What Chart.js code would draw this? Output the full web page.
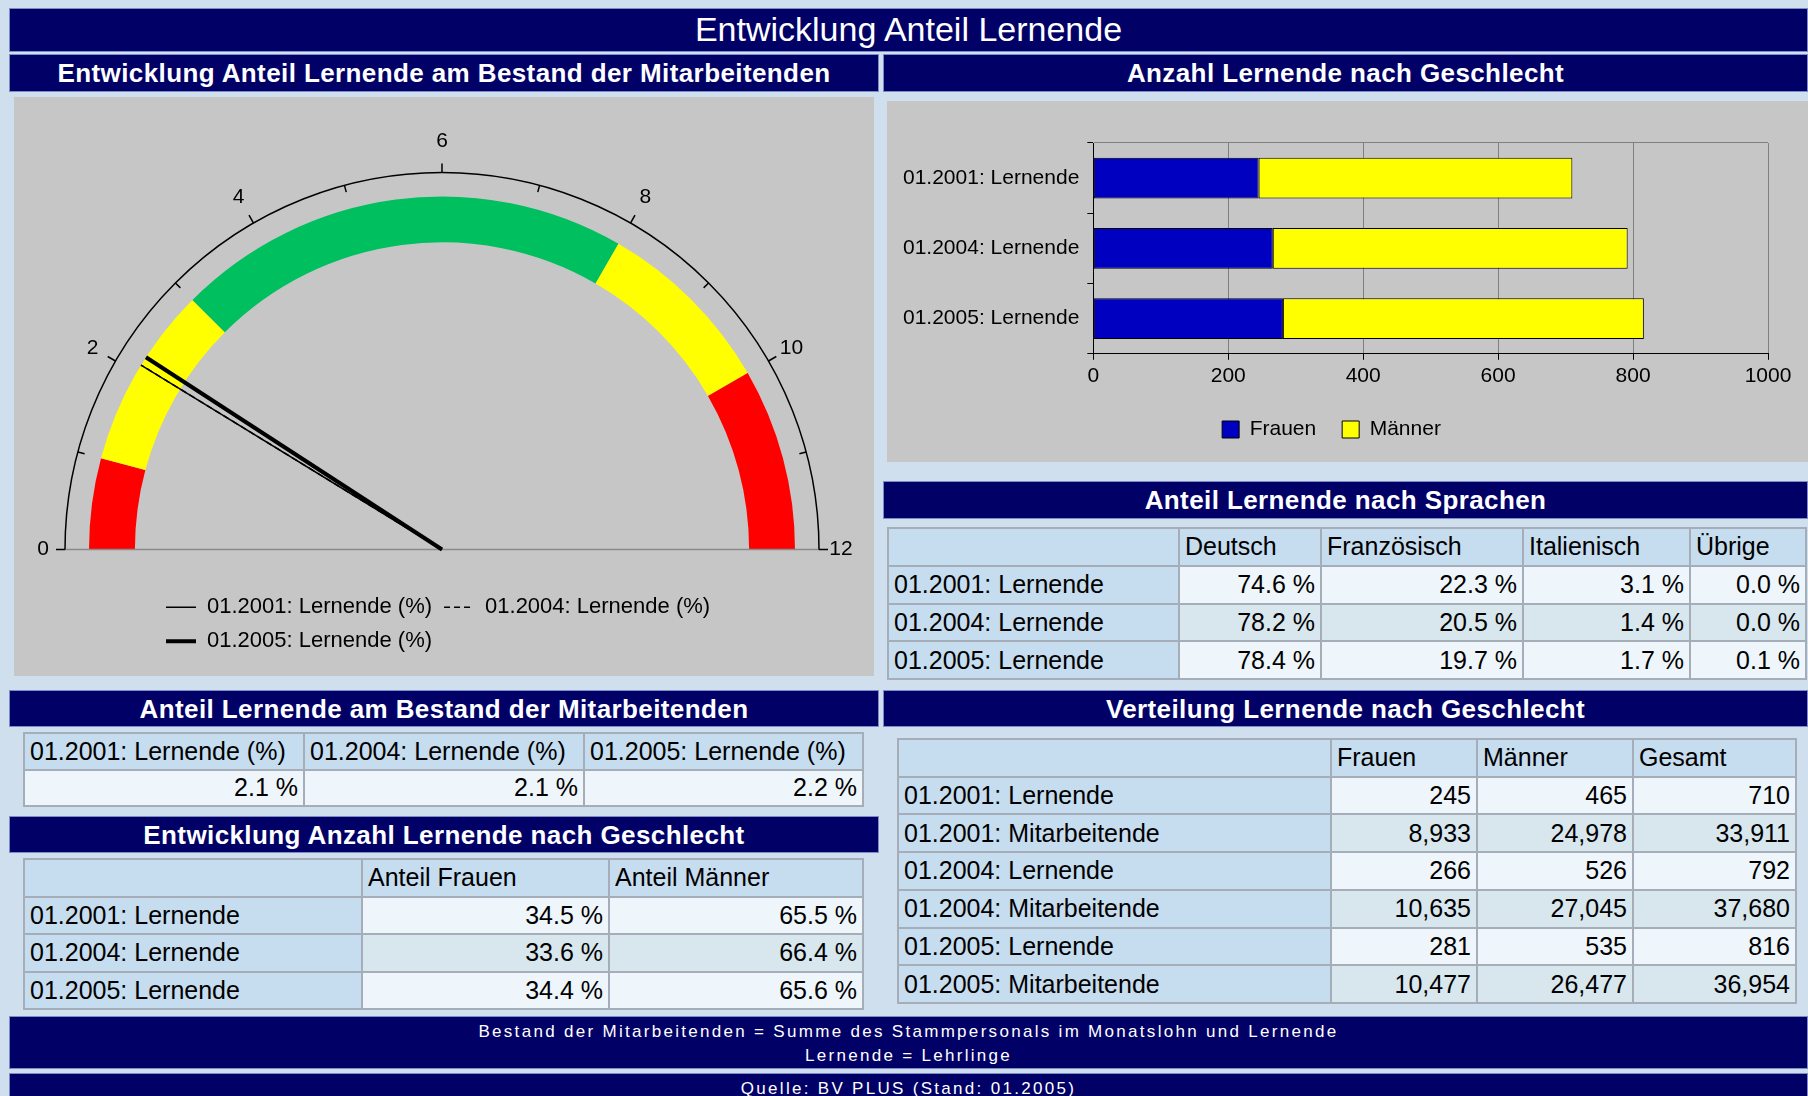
<!DOCTYPE html>
<html lang="de">
<head>
<meta charset="utf-8">
<title>Entwicklung Anteil Lernende</title>
<script src="https://cdn.jsdelivr.net/npm/chart.js@4.4.1/dist/chart.umd.min.js"></script>
<style>
  html, body { margin: 0; padding: 0; }
  body {
    width: 1808px; height: 1096px; overflow: hidden; position: relative;
    background: #cfdfee;
    font-family: 'Liberation Sans', Arial, sans-serif;
  }
  .bar {
    position: absolute; box-sizing: border-box;
    background: #000066; color: #fff;
    border: 1px solid #7d8cc4;
    text-align: center; white-space: nowrap;
  }
  .head { font-weight: bold; font-size: 26px; line-height: 36px; letter-spacing: 0.4px; }
  .title { font-size: 34px; line-height: 41px; }
  .foot { font-size: 17px; line-height: 24px; letter-spacing: 2.3px; }
  canvas { position: absolute; background: #c6c6c6; }
  table {
    position: absolute; border-collapse: collapse; table-layout: fixed;
    font-size: 25px; color: #000;
  }
  td { border: 2px solid #a5aeb8; padding: 0 5px; white-space: nowrap; overflow: hidden; }
  td.lab, tr.hd td { background: #c6dcef; text-align: left; }
  td.num { text-align: right; }
  tr.odd td.num { background: #eef6fc; }
  tr.even td.num { background: #d8e6ee; }
</style>
</head>
<body>

<div class="bar title" style="left:9px; top:8px; width:1799px; height:44px;">Entwicklung Anteil Lernende</div>

<div class="bar head" style="left:9px; top:54px; width:870px; height:38px;">Entwicklung Anteil Lernende am Bestand der Mitarbeitenden</div>
<div class="bar head" style="left:883px; top:54px; width:925px; height:38px;">Anzahl Lernende nach Geschlecht</div>

<canvas id="gaugeChart" width="860" height="579" style="left:14px; top:97px;"></canvas>
<canvas id="genderChart" width="921" height="361" style="left:887px; top:101px;"></canvas>

<div class="bar head" style="left:883px; top:481px; width:925px; height:38px;">Anteil Lernende nach Sprachen</div>
<table id="langTable" style="left:887px; top:527px; width:918px; height:153px;"></table>

<div class="bar head" style="left:9px; top:690px; width:870px; height:37px;">Anteil Lernende am Bestand der Mitarbeitenden</div>
<table id="shareTable" style="left:23px; top:732px; width:839px; height:75px;"></table>

<div class="bar head" style="left:883px; top:690px; width:925px; height:37px;">Verteilung Lernende nach Geschlecht</div>
<table id="distTable" style="left:897px; top:738px; width:898px; height:266px;"></table>

<div class="bar head" style="left:9px; top:816px; width:870px; height:37px;">Entwicklung Anzahl Lernende nach Geschlecht</div>
<table id="devTable" style="left:23px; top:858px; width:839px; height:152px;"></table>

<div class="bar foot" style="left:9px; top:1016px; width:1799px; height:53px; padding-top:3px;">
  Bestand der Mitarbeitenden = Summe des Stammpersonals im Monatslohn und Lernende<br>Lernende = Lehrlinge
</div>
<div class="bar foot" style="left:9px; top:1073px; width:1799px; height:40px; padding-top:3px;">Quelle: BV PLUS (Stand: 01.2005)</div>

<script>
/* ---- data ---- */
const periods       = ['01.2001', '01.2004', '01.2005'];
const learnerShare  = [2.1, 2.1, 2.2];          // Lernende in % of staff
const gaugeTicks    = [0, 2, 4, 6, 8, 10, 12];
const bandStops     = [0, 1, 3, 8, 10, 12];
const bandColors    = ['#ff0000', '#ffff00', '#00bf5f', '#ffff00', '#ff0000'];

const learnersF     = [245, 266, 281];
const learnersM     = [465, 526, 535];
const learnersAll   = [710, 792, 816];
const staffF        = [8933, 10635, 10477];
const staffM        = [24978, 27045, 26477];
const staffAll      = [33911, 37680, 36954];
const shareF        = [34.5, 33.6, 34.4];
const shareM        = [65.5, 66.4, 65.6];
const barTicks      = [0, 200, 400, 600, 800, 1000];

const languages     = ['Deutsch', 'Französisch', 'Italienisch', 'Übrige'];
const langDe        = [74.6, 78.2, 78.4];
const langFr        = [22.3, 20.5, 19.7];
const langIt        = [3.1, 1.4, 1.7];
const langOther     = [0.0, 0.0, 0.1];

/* needle look per period: thin, dashed, thick */
const needleStyles = [
  { width: 1.5, dash: [] },
  { width: 1.5, dash: [6, 4] },
  { width: 4,   dash: [] }
];

Chart.defaults.font.family = "'Liberation Sans', Arial, sans-serif";
Chart.defaults.color = '#000';

const pct = v => v.toFixed(1) + ' %';
const num = v => v.toLocaleString('en-US');

/* ---- gauge: doughnut half ring + scale/needles drawn on top ---- */
const GAUGE_MAX = gaugeTicks[gaugeTicks.length - 1];

const gaugeScalePlugin = {
  id: 'gaugeScale',
  afterDatasetsDraw(chart) {
    const arc = chart.getDatasetMeta(0).data[0];
    if (!arc) return;
    const { x: cx, y: cy, outerRadius: R } = arc;
    const ctx = chart.ctx;
    const rs = R + 24;                       // scale ring radius
    const ang = v => Math.PI + (v / GAUGE_MAX) * Math.PI;
    const pt = (v, r) => [cx + Math.cos(ang(v)) * r, cy + Math.sin(ang(v)) * r];

    ctx.save();
    // base line
    ctx.strokeStyle = '#8a8a8a';
    ctx.lineWidth = 1.5;
    ctx.beginPath();
    ctx.moveTo(cx - rs, cy);
    ctx.lineTo(cx + rs, cy);
    ctx.stroke();

    // scale ring
    ctx.strokeStyle = '#000';
    ctx.lineWidth = 1.5;
    ctx.beginPath();
    ctx.arc(cx, cy, rs, Math.PI, 2 * Math.PI);
    ctx.stroke();

    // ticks: majors outward, minors inward
    for (let v = 0; v <= GAUGE_MAX; v++) {
      const major = gaugeTicks.includes(v);
      const [x0, y0] = pt(v, major ? rs : rs - 7);
      const [x1, y1] = pt(v, major ? rs + 9 : rs);
      ctx.beginPath();
      ctx.moveTo(x0, y0);
      ctx.lineTo(x1, y1);
      ctx.stroke();
    }

    // tick labels
    ctx.fillStyle = '#000';
    ctx.font = "21px 'Liberation Sans', Arial, sans-serif";
    ctx.textAlign = 'center';
    ctx.textBaseline = 'middle';
    gaugeTicks.forEach(v => {
      const r = rs + 22 + 9 * Math.abs(Math.sin(ang(v)));
      const [x, y] = pt(v, r);
      ctx.fillText(String(v), x, y);
    });

    // needles
    ctx.lineCap = 'butt';
    learnerShare.forEach((v, i) => {
      const [x, y] = pt(v, R);
      ctx.lineWidth = needleStyles[i].width;
      ctx.setLineDash(needleStyles[i].dash);
      ctx.beginPath();
      ctx.moveTo(cx, cy);
      ctx.lineTo(x, y);
      ctx.stroke();
    });
    ctx.restore();
  }
};

function initGaugeChart() {
  const el = document.getElementById('gaugeChart');
  new Chart(el, {
    type: 'doughnut',
    data: {
      labels: bandColors.map((c, i) => bandStops[i] + '-' + bandStops[i + 1]),
      datasets: [{
        data: bandStops.slice(1).map((s, i) => s - bandStops[i]),
        backgroundColor: bandColors,
        borderWidth: 0
      }]
    },
    options: {
      responsive: false,
      animation: false,
      events: [],
      rotation: -90,
      circumference: 180,
      radius: 353,
      cutout: '87%',
      layout: { padding: { left: 140, right: 144, top: 64.75, bottom: 13.75 } },
      plugins: {
        tooltip: { enabled: false },
        legend: {
          position: 'bottom',
          align: 'start',
          labels: {
            usePointStyle: true,
            pointStyleWidth: 30,
            padding: 12,
            font: { size: 22 },
            generateLabels: () => periods.map((p, i) => ({
              text: p + ': Lernende (%)',
              fillStyle: 'rgba(0,0,0,0)',
              strokeStyle: '#000',
              fontColor: '#000',
              lineWidth: needleStyles[i].width,
              lineDash: needleStyles[i].dash,
              pointStyle: 'line',
              hidden: false,
              index: i
            }))
          }
        }
      }
    },
    plugins: [gaugeScalePlugin]
  });
}

/* ---- stacked horizontal bars: Frauen / Männer ---- */
function initGenderChart() {
  const el = document.getElementById('genderChart');
  new Chart(el, {
    type: 'bar',
    data: {
      labels: periods.map(p => p + ': Lernende'),
      datasets: [
        { label: 'Frauen', data: learnersF, backgroundColor: '#0000c0', borderColor: '#000', borderWidth: 1, borderSkipped: false, barPercentage: 0.58, categoryPercentage: 1 },
        { label: 'Männer', data: learnersM, backgroundColor: '#ffff00', borderColor: '#000', borderWidth: 1, borderSkipped: false, barPercentage: 0.58, categoryPercentage: 1 }
      ]
    },
    options: {
      indexAxis: 'y',
      responsive: false,
      animation: false,
      events: [],
      layout: { padding: { left: 8, right: 40, top: 42, bottom: 12 } },
      scales: {
        x: {
          stacked: true,
          min: barTicks[0],
          max: barTicks[barTicks.length - 1],
          afterBuildTicks: axis => { axis.ticks = barTicks.map(v => ({ value: v })); },
          grid: { color: '#808080', tickColor: '#000', tickLength: 6 },
          border: { color: '#000' },
          ticks: { font: { size: 21 }, padding: 4, maxRotation: 0, callback: v => String(v) }
        },
        y: {
          stacked: true,
          grid: {
            color: ctx => ctx.index === 0 ? '#808080' : 'rgba(0,0,0,0)',
            tickColor: '#000',
            tickLength: 6
          },
          border: { color: '#000' },
          ticks: { font: { size: 21 }, padding: 8 }
        }
      },
      plugins: {
        tooltip: { enabled: false },
        legend: {
          position: 'bottom',
          labels: { font: { size: 21 }, boxWidth: 17, boxHeight: 17, padding: 26 }
        }
      }
    }
  });
}

/* ---- html tables ---- */
function buildTable(id, colWidths, header, rows, hasLabel) {
  const t = document.getElementById(id);
  let html = '<colgroup>' + colWidths.map(w => '<col style="width:' + w + 'px">').join('') + '</colgroup>';
  html += '<tr class="hd">' + header.map(h => '<td>' + h + '</td>').join('') + '</tr>';
  rows.forEach((r, i) => {
    html += '<tr class="' + (i % 2 === 0 ? 'odd' : 'even') + '">';
    r.forEach((c, j) => {
      const cls = hasLabel && j === 0 ? 'lab' : 'num';
      html += '<td class="' + cls + '">' + c + '</td>';
    });
    html += '</tr>';
  });
  t.innerHTML = html;
}

function initTables() {
  buildTable('langTable', [291, 142, 202, 167, 116], [''].concat(languages),
    periods.map((p, i) => [p + ': Lernende', pct(langDe[i]), pct(langFr[i]), pct(langIt[i]), pct(langOther[i])]), true);

  buildTable('shareTable', [280, 280, 279], periods.map(p => p + ': Lernende (%)'),
    [learnerShare.map(pct)], false);

  buildTable('devTable', [338, 247, 254], ['', 'Anteil Frauen', 'Anteil Männer'],
    periods.map((p, i) => [p + ': Lernende', pct(shareF[i]), pct(shareM[i])]), true);

  const distRows = [];
  periods.forEach((p, i) => {
    distRows.push([p + ': Lernende', num(learnersF[i]), num(learnersM[i]), num(learnersAll[i])]);
    distRows.push([p + ': Mitarbeitende', num(staffF[i]), num(staffM[i]), num(staffAll[i])]);
  });
  buildTable('distTable', [433, 146, 156, 163], ['', 'Frauen', 'Männer', 'Gesamt'], distRows, true);
}

initGaugeChart();
initGenderChart();
initTables();
</script>
</body>
</html>
